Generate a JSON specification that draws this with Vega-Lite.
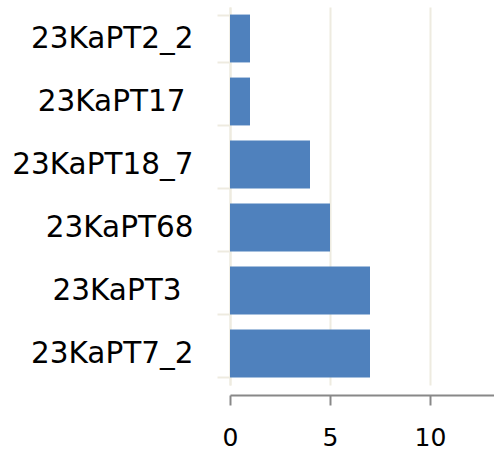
{
  "$schema": "https://vega.github.io/schema/vega-lite/v6.json",
  "autosize": {"type": "none"},
  "padding": {"left": 230, "top": 7, "right": 0, "bottom": 67},
  "width": 264,
  "height": 378,
  "background": "white",
  "data": {"values": [
    {"sample": "23KaPT2_2", "count": 1},
    {"sample": "23KaPT17", "count": 1},
    {"sample": "23KaPT18_7", "count": 4},
    {"sample": "23KaPT68", "count": 5},
    {"sample": "23KaPT3", "count": 7},
    {"sample": "23KaPT7_2", "count": 7}
  ]},
  "mark": {"type": "bar", "color": "#4f81bd"},
  "encoding": {
    "y": {
      "field": "sample", "type": "nominal", "sort": null,
      "scale": {"paddingInner": 0.24, "paddingOuter": 0.12},
      "axis": {
        "title": null, "domainColor": "#eeebe0", "domainWidth": 2,
        "tickColor": "#eeebe0", "tickWidth": 2, "tickSize": 13, "tickBand": "extent",
        "labelFontSize": 29.5, "labelFont": "DejaVu Sans", "labelColor": "#000000",
        "labelLimit": 400,
        "labelPadding": {"expr": "datum.value === '23KaPT17' ? 32 : datum.value === '23KaPT3' ? 36 : 24"}
      }
    },
    "x": {
      "field": "count", "type": "quantitative",
      "scale": {"domain": [0, 13.2], "nice": false},
      "axis": {
        "title": null, "values": [0, 5, 10], "offset": 10,
        "grid": true, "gridColor": "#eeebe0", "gridWidth": 2,
        "domainColor": "#888888", "domainWidth": 2,
        "tickColor": "#888888", "tickWidth": 2, "tickSize": 10,
        "labelFlush": false,
        "labelFontSize": 25, "labelFont": "DejaVu Sans", "labelColor": "#000000", "labelPadding": 20
      }
    }
  },
  "config": {"view": {"stroke": null}}
}
